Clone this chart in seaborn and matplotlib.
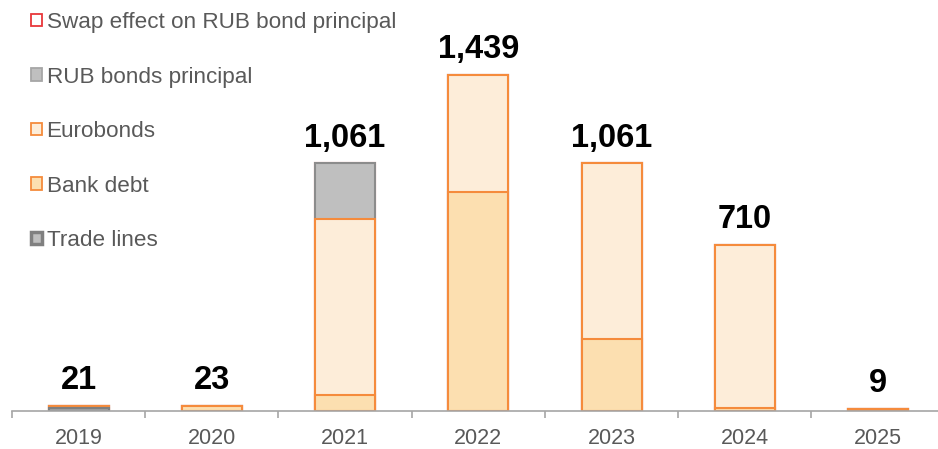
import numpy as np
import pandas as pd
import matplotlib
matplotlib.use("Agg")
import matplotlib.pyplot as plt
from matplotlib.patches import Patch
import seaborn as sns

years = ["2019", "2020", "2021", "2022", "2023", "2024", "2025"]
trade_lines = [12, 0, 0, 0, 0, 0, 0]
bank_debt = [9, 23, 69, 938, 308, 13, 9]
eurobonds = [0, 0, 752, 501, 753, 697, 0]
rub_bonds = [0, 0, 240, 0, 0, 0, 0]
swap_effect = [0, 0, 0, 0, 0, 0, 0]
totals = [21, 23, 1061, 1439, 1061, 710, 9]
total_labels = ["21", "23", "1,061", "1,439", "1,061", "710", "9"]

sns.set_theme(style="white")
plt.rcParams["font.family"] = ["Liberation Sans", "DejaVu Sans"]

fig = plt.figure(figsize=(9.38, 4.49), dpi=100)
ax = fig.add_axes([12 / 938, 38 / 449, 926 / 938, 411 / 449])

t = np.array(trade_lines, float)
b = np.array(bank_debt, float)
e = np.array(eurobonds, float)
r = np.array(rub_bonds, float)
s = np.array(swap_effect, float)

layers = [
    (t + b + e + r + s, "white", "#E8373A"),
    (t + b + e + r, "#BFBFBF", "#8C8C8C"),
    (t + b + e, "#FDEDD9", "#F58B3C"),
    (t + b, "#FCDFB0", "#F58B3C"),
    (t, "#A0A0A0", "#7F7F7F"),
]
for vals, fc, ec in layers:
    df = pd.DataFrame({"year": years, "val": vals})
    n0 = len(ax.patches)
    sns.barplot(data=df, x="year", y="val", color=fc, edgecolor=ec,
                linewidth=1.5, width=0.45, saturation=1, errorbar=None, ax=ax)
    for p in ax.patches[n0:]:
        p.set_facecolor(fc)
        if p.get_height() <= 0:
            p.set_visible(False)

for i, (tot, lab) in enumerate(zip(totals, total_labels)):
    ax.annotate(lab, (i, tot), xytext=(0, 7), textcoords="offset points",
                ha="center", va="bottom", fontsize=23.5, fontweight="bold",
                color="black")

ax.set_xlim(-0.5, 6.45)
ax.set_ylim(0, 1760)
ax.set_xlabel("")
ax.set_ylabel("")
ax.set_yticks([])
for sp in ["top", "left", "right"]:
    ax.spines[sp].set_visible(False)
ax.spines["bottom"].set_color("#A6A6A6")
ax.spines["bottom"].set_linewidth(1.2)
ax.tick_params(axis="x", which="major", length=0, labelsize=15.5,
               labelcolor="#595959", pad=12)
ax.set_xticks(np.arange(-0.5, 6.5, 1.0), minor=True)
ax.tick_params(axis="x", which="minor", length=5, color="#A6A6A6", width=1.2,
               direction="out", bottom=True)

handles = [
    Patch(facecolor="white", edgecolor="#E8373A", linewidth=1.3),
    Patch(facecolor="#BFBFBF", edgecolor="#A6A6A6", linewidth=1.3),
    Patch(facecolor="#FDEDD9", edgecolor="#F58B3C", linewidth=1.3),
    Patch(facecolor="#FCDFB0", edgecolor="#F58B3C", linewidth=1.3),
    Patch(facecolor="#BFBFBF", edgecolor="#808080", linewidth=2.5),
]
labels = ["Swap effect on RUB bond principal", "RUB bonds principal",
          "Eurobonds", "Bank debt", "Trade lines"]
leg = fig.legend(handles, labels, loc="upper left",
                 bbox_to_anchor=(31 / 938, 1 - 12 / 449), frameon=False,
                 fontsize=16.2, handlelength=0.47, handleheight=0.47,
                 handletextpad=0.22, labelspacing=1.49, borderaxespad=0,
                 borderpad=0)
for txt in leg.get_texts():
    txt.set_color("#595959")

fig.savefig("out.png", dpi=100)
